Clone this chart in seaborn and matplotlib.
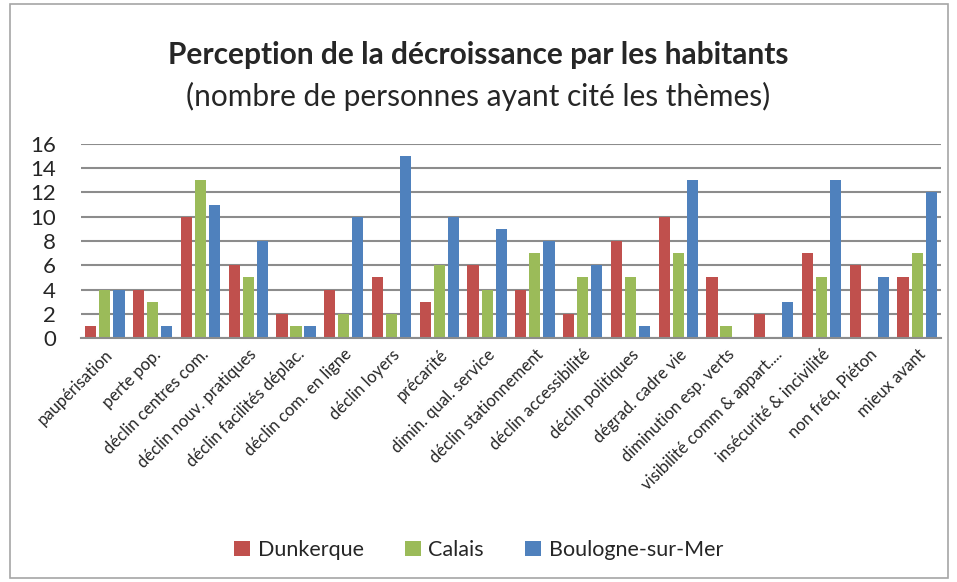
import matplotlib
matplotlib.use("Agg")
import matplotlib.pyplot as plt
import seaborn as sns
import pandas as pd
from matplotlib.patches import Rectangle

categories = [
    "paupérisation", "perte pop.", "déclin centres com.", "déclin nouv. pratiques",
    "déclin facilités déplac.", "déclin com. en ligne", "déclin loyers", "précarité",
    "dimin. qual. service", "déclin stationnement", "déclin accessibilité",
    "déclin politiques", "dégrad. cadre vie", "diminution esp. verts",
    "visibilité comm & appart....", "insécurité & incivilité", "non fréq. Piéton",
    "mieux avant",
]
dunkerque = [1, 4, 10, 6, 2, 4, 5, 3, 6, 4, 2, 8, 10, 5, 2, 7, 6, 5]
calais = [4, 3, 13, 5, 1, 2, 2, 6, 4, 7, 5, 5, 7, 1, 0, 5, 0, 7]
boulogne = [4, 1, 11, 8, 1, 10, 15, 10, 9, 8, 6, 1, 13, 0, 3, 13, 5, 12]
series_names = ["Dunkerque", "Calais", "Boulogne-sur-Mer"]
colors = ["#C0504D", "#9BBB59", "#4F81BD"]
yticks = [0, 2, 4, 6, 8, 10, 12, 14, 16]

df = pd.DataFrame({
    "theme": categories * 3,
    "ville": [series_names[0]] * len(categories)
             + [series_names[1]] * len(categories)
             + [series_names[2]] * len(categories),
    "n": dunkerque + calais + boulogne,
})

sns.set_theme(style="white")
plt.rcParams["font.family"] = ["Lato", "DejaVu Sans"]

fig = plt.figure(figsize=(9.57, 5.82), dpi=100)
ax = fig.add_axes([81 / 957, 1 - 338 / 582, 860 / 957, 194 / 582])

sns.barplot(data=df, x="theme", y="n", hue="ville", order=categories,
            hue_order=series_names, palette=colors, width=0.88, gap=0.2,
            saturation=1, ax=ax, legend=True, edgecolor="none", linewidth=0)

ax.set_ylim(0, 16)
ax.set_xlim(-0.5, len(categories) - 0.5)
ax.set_yticks(yticks)
ax.set_yticklabels([str(t) for t in yticks], fontsize=16)
ax.yaxis.grid(True, color="#8C8C8C", linewidth=1.5)
ax.set_axisbelow(True)
for s in ["top", "right", "left"]:
    ax.spines[s].set_visible(False)
ax.spines["bottom"].set_color("#8C8C8C")
ax.spines["bottom"].set_linewidth(1.5)
ax.tick_params(axis="both", length=0)
ax.tick_params(axis="y", pad=18)
ax.set_xlabel("")
ax.set_ylabel("")
ax.set_xticks(range(len(categories)))
ax.set_xticklabels(categories, rotation=45, ha="right", va="top",
                   rotation_mode="anchor", fontsize=12)
ax.tick_params(axis="x", pad=6)

handles, labels = ax.get_legend_handles_labels()
ax.legend(handles, labels, loc="center", bbox_to_anchor=(0.5, 1 - 550 / 582),
          bbox_transform=fig.transFigure, ncol=3, frameon=False, fontsize=15.5,
          handlelength=0.75, handleheight=0.75, handletextpad=0.35,
          columnspacing=1.9)

fig.text(0.5, 1 - 55 / 582, "Perception de la décroissance par les habitants",
         ha="center", va="center", fontsize=21.5, fontweight="bold")
fig.text(0.5, 1 - 96 / 582, "(nombre de personnes ayant cité les thèmes)",
         ha="center", va="center", fontsize=21.5)

fig.patches.append(Rectangle((10 / 957, 4 / 582), 938 / 957, 574 / 582,
                             transform=fig.transFigure, fill=False,
                             edgecolor="#A6A6A6", linewidth=1.2))

fig.savefig("out.png", dpi=100)
